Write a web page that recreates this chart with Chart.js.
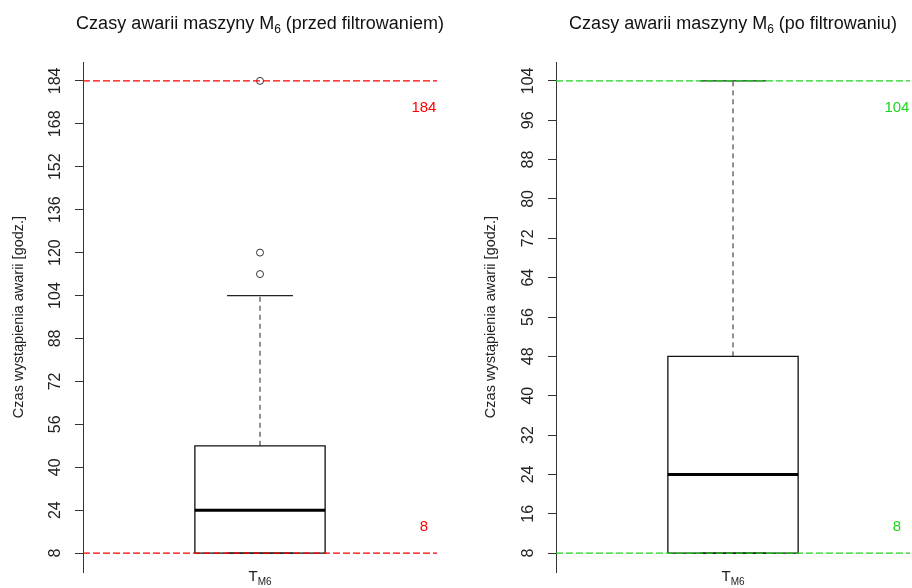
<!DOCTYPE html>
<html>
<head>
<meta charset="utf-8">
<script src="https://cdn.jsdelivr.net/npm/chart.js@4.4.1/dist/chart.umd.min.js"></script>
<style>
  body { margin: 0; background: #fff; }
  #wrap { position: relative; width: 912px; height: 588px; }
  #wrap canvas { position: absolute; top: 0; }
</style>
</head>
<body>
<div id="wrap">
  <canvas id="before" width="456" height="588" style="left:0"></canvas>
  <canvas id="after" width="456" height="588" style="left:456px"></canvas>
</div>
<script>
// dane
const categories = ['T_M6'];
// [q1, mediana, q3, dolny wąs, górny wąs]
const beforeBox = [8, 24, 48, 8, 104];
const beforeOutliers = [112, 120, 184];
const beforeLimits = [8, 184];
const beforeTicks = [8, 16, 24, 32, 40, 48, 56, 64, 72, 80, 88, 96, 104, 112, 120, 128, 136, 144, 152, 160, 168, 176, 184];
const beforeTickLabels = [8, 24, 40, 56, 72, 88, 104, 120, 136, 152, 168, 184];

const afterBox = [8, 24, 48, 8, 104];
const afterOutliers = [];
const afterLimits = [8, 104];
const afterTicks = [8, 16, 24, 32, 40, 48, 56, 64, 72, 80, 88, 96, 104];
const afterTickLabels = [8, 16, 24, 32, 40, 48, 56, 64, 72, 80, 88, 96, 104];

// tytuł: [tekst, indeks dolny, reszta]
const beforeTitle = ['Czasy awarii maszyny M', '6', ' (przed filtrowaniem)'];
const afterTitle = ['Czasy awarii maszyny M', '6', ' (po filtrowaniu)'];

const FONT = '"Liberation Sans", Arial, sans-serif';
const BOX_HALF = 0.184;   // pół szerokości pudełka (jedn. osi x)
const CAP_HALF = 0.093;

function seg(x1, y1, x2, y2) {
  return [{ x: x1, y: y1 }, { x: x2, y: y2 }];
}

function lineSet(data, color, width, dash, order) {
  return {
    data: data,
    borderColor: color, borderWidth: width, borderDash: dash || [],
    pointRadius: 0, fill: false, order: order, tension: 0
  };
}

// tekst z indeksem dolnym, wyśrodkowany w cx
function subText(ctx, parts, cx, y, size, subSize, drop) {
  ctx.font = size + 'px ' + FONT;
  const w0 = ctx.measureText(parts[0]).width;
  const w2 = parts[2] ? ctx.measureText(parts[2]).width : 0;
  ctx.font = subSize + 'px ' + FONT;
  const w1 = ctx.measureText(parts[1]).width;
  let x = cx - (w0 + w1 + w2) / 2;
  ctx.textAlign = 'left';
  ctx.textBaseline = 'alphabetic';
  ctx.font = size + 'px ' + FONT;
  ctx.fillText(parts[0], x, y);
  x += w0;
  ctx.font = subSize + 'px ' + FONT;
  ctx.fillText(parts[1], x, y + drop);
  x += w1;
  if (parts[2]) {
    ctx.font = size + 'px ' + FONT;
    ctx.fillText(parts[2], x, y);
  }
}

// tytuł, podpisy wartości granicznych i etykieta osi x (T z indeksem M6)
const textPlugin = {
  id: 'texty',
  afterDatasetsDraw(chart) {
    const p = chart.options.plugins.texty;
    const ctx = chart.ctx;
    const xs = chart.scales.x, ys = chart.scales.y;
    const area = chart.chartArea;
    ctx.save();
    ctx.fillStyle = p.color;
    ctx.font = '15px ' + FONT;
    ctx.textAlign = 'center';
    ctx.textBaseline = 'middle';
    const lx = xs.getPixelForValue(1.463);
    ctx.fillText(String(p.limits[1]), lx, ys.getPixelForValue(p.limits[1]) + 27);
    ctx.fillText(String(p.limits[0]), lx, ys.getPixelForValue(p.limits[0]) - 26);

    ctx.fillStyle = '#111';
    subText(ctx, p.title, (area.left + area.right) / 2, 29, 18, 12, 4);

    const sub = categories[0].split('_');
    ctx.fillStyle = '#222';
    subText(ctx, [sub[0], sub[1]], xs.getPixelForValue(1), area.bottom + 9, 15, 10, 4);
    ctx.restore();
  }
};

function makePanel(id, opts) {
  const b = opts.box;
  const lim = opts.limits;
  const range = lim[1] - lim[0];

  const datasets = [
    lineSet(seg(0.5, lim[0], 1.5, lim[0]), opts.color, 1.2, [7, 3], 0),
    lineSet(seg(0.5, lim[1], 1.5, lim[1]), opts.color, 1.2, [7, 3], 0),
    lineSet(seg(1 - BOX_HALF, b[1], 1 + BOX_HALF, b[1]), '#000', 3, null, 1),
    // pudełko q1..q3
    lineSet([
      { x: 1 - BOX_HALF, y: b[0] }, { x: 1 + BOX_HALF, y: b[0] },
      { x: 1 + BOX_HALF, y: b[2] }, { x: 1 - BOX_HALF, y: b[2] },
      { x: 1 - BOX_HALF, y: b[0] }
    ], '#111', 1.3, null, 2),
    lineSet(seg(1, b[2], 1, b[4]), '#222', 1, [5, 4], 3),
    lineSet(seg(1 - CAP_HALF, b[4], 1 + CAP_HALF, b[4]), '#222', 1.2, null, 3),
    lineSet(seg(1, b[3], 1, b[0]), '#222', 1, [5, 4], 3),
    lineSet(seg(1 - CAP_HALF, b[3], 1 + CAP_HALF, b[3]), '#222', 1.2, null, 3),
    {
      showLine: false, order: 3,
      data: opts.outliers.map(v => ({ x: 1, y: v })),
      pointStyle: 'circle', pointRadius: 3.5, pointBorderWidth: 1,
      pointBorderColor: '#333', pointBackgroundColor: 'rgba(0,0,0,0)'
    }
  ];

  return new Chart(document.getElementById(id), {
    type: 'line',
    data: { datasets: datasets },
    plugins: [textPlugin],
    options: {
      responsive: false,
      animation: false,
      layout: { padding: { left: 0, right: opts.padRight, top: 62, bottom: 16 } },
      plugins: {
        legend: { display: false },
        tooltip: { enabled: false },
        title: { display: false },
        texty: { color: opts.color, limits: lim, title: opts.title }
      },
      scales: {
        x: { type: 'linear', display: false, min: 0.5, max: 1.5, offset: false },
        y: {
          type: 'linear',
          min: lim[0] - 0.04 * range,
          max: lim[1] + 0.04 * range,
          afterFit: s => { s.width = opts.axisWidth; },
          afterBuildTicks: s => { s.ticks = opts.ticks.map(v => ({ value: v })); },
          border: { display: true, color: '#333', width: 1 },
          grid: { drawOnChartArea: false, drawTicks: true, tickLength: 8, color: '#333' },
          ticks: {
            minRotation: 90, maxRotation: 90,
            crossAlign: 'center',
            padding: 6,
            color: '#222',
            font: { family: FONT, size: 16 },
            callback: v => opts.tickLabels.includes(v) ? String(v) : ''
          },
          title: {
            display: true,
            text: 'Czas wystąpienia awarii [godz.]',
            color: '#222',
            font: { family: FONT, size: 14.5 },
            padding: { top: opts.titlePad, bottom: 0 }
          }
        }
      }
    }
  });
}

makePanel('before', {
  title: beforeTitle,
  box: beforeBox, outliers: beforeOutliers, limits: beforeLimits,
  ticks: beforeTicks, tickLabels: beforeTickLabels,
  color: '#ff0000', axisWidth: 83, padRight: 19, titlePad: 10
});

makePanel('after', {
  title: afterTitle,
  box: afterBox, outliers: afterOutliers, limits: afterLimits,
  ticks: afterTicks, tickLabels: afterTickLabels,
  color: '#1fd41f', axisWidth: 100, padRight: 2, titlePad: 26
});
</script>
</body>
</html>
